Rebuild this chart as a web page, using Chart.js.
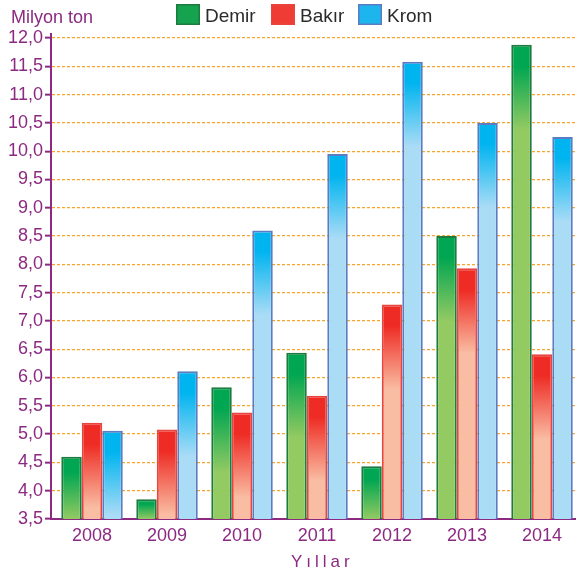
<!DOCTYPE html>
<html>
<head>
<meta charset="utf-8">
<script src="https://cdn.jsdelivr.net/npm/chart.js@4/dist/chart.umd.min.js"></script>
<style>
html,body{margin:0;padding:0;background:#fff;overflow:hidden;}
#wrap{position:relative;width:576px;height:574px;}
</style>
</head>
<body>
<div id="wrap"><canvas id="c" width="576" height="574"></canvas></div>
<script>
const years = ['2008', '2009', '2010', '2011', '2012', '2013', '2014'];
const demir = [4.6, 3.85, 5.83, 6.44, 4.43, 8.5, 11.88];
const bakir = [5.2, 5.08, 5.38, 5.68, 7.29, 7.93, 6.41];
const krom = [5.06, 6.11, 8.6, 9.95, 11.58, 10.5, 10.25];
const seriesNames = ['Demir', 'Bakır', 'Krom'];
const yTicks = [3.5, 4, 4.5, 5, 5.5, 6, 6.5, 7, 7.5, 8, 8.5, 9, 9.5, 10, 10.5, 11, 11.5, 12];
const yTitle = 'Milyon ton';
const xTitle = 'Yıllar';

const PURPLE = '#8c2a82';
const FONT = '"Liberation Sans", Arial, sans-serif';
const styles = [
  {top: '#00a651', bottom: '#93ca62', border: '#1e7a3e', legend: '#16a34f'},
  {top: '#ee2b24', bottom: '#f9bda3', border: '#e8453f', legend: '#ef3d36'},
  {top: '#00b4ef', bottom: '#abdcf6', border: '#5b7cc2', legend: '#1cb5ee'}
];

function gradFill(i) {
  return (ctx) => {
    const chart = ctx.chart;
    const area = chart.chartArea;
    if (!area || !ctx.raw) return styles[i].bottom;
    const yTop = chart.scales.y.getPixelForValue(ctx.raw.y);
    const h = area.bottom - yTop;
    const len = Math.max(2, Math.min(h, 85));
    const g = chart.ctx.createLinearGradient(0, yTop, 0, yTop + len);
    g.addColorStop(0, styles[i].top);
    g.addColorStop(0.25, styles[i].top);
    g.addColorStop(1, styles[i].bottom);
    return g;
  };
}

const extrasPlugin = {
  id: 'extras',
  afterDraw(chart) {
    const ctx = chart.ctx;
    const area = chart.chartArea;
    ctx.save();
    // small extension of the y axis above the top tick
    ctx.strokeStyle = PURPLE;
    ctx.lineWidth = 2;
    ctx.beginPath();
    ctx.moveTo(area.left, area.top - 5);
    ctx.lineTo(area.left, area.top);
    ctx.stroke();
    // y axis title (top-left)
    ctx.fillStyle = PURPLE;
    ctx.font = '18px ' + FONT;
    ctx.textBaseline = 'alphabetic';
    ctx.textAlign = 'left';
    ctx.fillText(yTitle, 11, 23);
    // legend
    const boxX = [176, 271, 358];
    chart.data.datasets.forEach((ds, i) => {
      const x = boxX[i];
      ctx.fillStyle = styles[i].legend;
      ctx.fillRect(x, 4, 24, 21);
      ctx.strokeStyle = styles[i].border;
      ctx.lineWidth = 1.5;
      ctx.strokeRect(x + 0.75, 4.75, 22.5, 19.5);
      ctx.fillStyle = '#2b2b2b';
      ctx.font = '19px ' + FONT;
      ctx.fillText(ds.label, x + 29, 22);
    });
    // x axis title with letter spacing
    ctx.fillStyle = PURPLE;
    ctx.font = '17px ' + FONT;
    ctx.letterSpacing = '4px';
    ctx.fillText(xTitle, 291, 567);
    ctx.restore();
  }
};

const datasets = [demir, bakir, krom].map((arr, i) => ({
  label: seriesNames[i],
  data: arr.map((v, k) => ({x: k, y: v})),
  backgroundColor: gradFill(i),
  borderColor: styles[i].border,
  borderWidth: 2,
  borderSkipped: 'bottom',
  barPercentage: 1.0,
  categoryPercentage: 0.82
}));

new Chart(document.getElementById('c'), {
  type: 'bar',
  data: {datasets},
  options: {
    responsive: false,
    animation: false,
    devicePixelRatio: 1,
    layout: {padding: {top: 38, right: 0, left: 0, bottom: 0}},
    plugins: {legend: {display: false}, tooltip: {enabled: false}, title: {display: false}},
    scales: {
      x: {
        type: 'linear',
        offset: false,
        min: -0.547,
        max: 6.453,
        grid: {display: false, drawTicks: false},
        border: {display: true, color: PURPLE, width: 2},
        afterBuildTicks: (s) => { s.ticks = years.map((_, k) => ({value: k})); },
        ticks: {
          color: PURPLE,
          font: {size: 18, family: FONT},
          padding: 6,
          autoSkip: false,
          maxRotation: 0,
          callback: (v) => years[v]
        },
        afterFit: (s) => { s.height = 55; }
      },
      y: {
        min: 3.5,
        max: 12,
        afterBuildTicks: (s) => { s.ticks = yTicks.map((v) => ({value: v})); },
        grid: {
          color: (c) => (c.tick && c.tick.value === 3.5) ? 'rgba(0,0,0,0)' : '#f6a52e',
          lineWidth: 1.3,
          drawTicks: true,
          tickLength: 6,
          tickColor: PURPLE,
          tickWidth: 2,
          tickBorderDash: []
        },
        border: {display: true, color: PURPLE, width: 2, dash: [3, 2]},
        ticks: {
          color: PURPLE,
          padding: 2,
          font: {size: 18, family: FONT},
          callback: (v) => Number(v).toFixed(1).replace('.', ',')
        },
        afterFit: (s) => { s.width = 51; }
      }
    }
  },
  plugins: [extrasPlugin]
});
</script>
</body>
</html>
